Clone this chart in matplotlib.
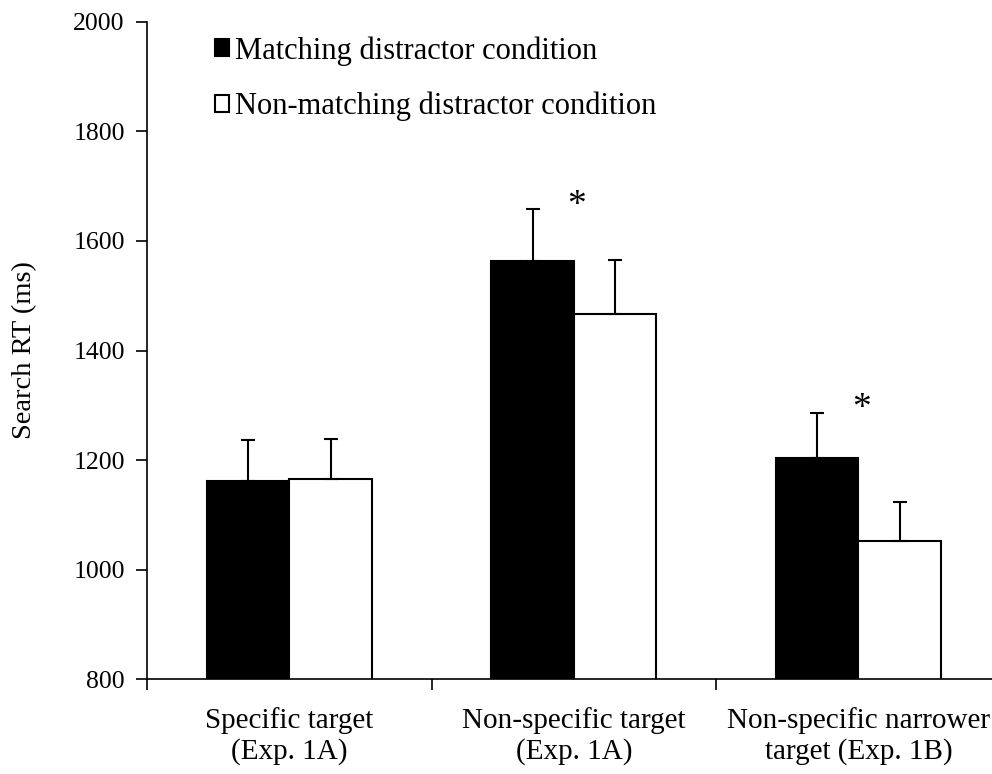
import matplotlib.pyplot as plt
import numpy as np

plt.rcParams['font.family'] = ['Liberation Serif', 'DejaVu Serif']

categories = ['Specific target\n(Exp. 1A)', 'Non-specific target\n(Exp. 1A)', 'Non-specific narrower\ntarget (Exp. 1B)']
matching = [1161, 1563, 1203]
matching_err = [75, 96, 83]
nonmatching = [1166, 1466, 1053]
nonmatching_err = [73, 100, 70]
star_groups = [1, 2]
star_level = [1665, 1293]

fig = plt.figure(figsize=(9.92, 7.74), dpi=100)
ax = fig.add_axes([0.1482, 0.1227, 0.8605, 0.8489])

x = np.arange(len(categories))
w = 0.29
lw = 1.5
ax.bar(x - w / 2, matching, w, color='black', edgecolor='black', lw=lw,
       label='Matching distractor condition')
ax.bar(x + w / 2, nonmatching, w, color='white', edgecolor='black', lw=lw,
       label='Non-matching distractor condition')
ax.errorbar(x - w / 2, matching, yerr=[np.zeros(3), matching_err], fmt='none',
            ecolor='black', elinewidth=lw, capsize=4.8, capthick=lw)
ax.errorbar(x + w / 2, nonmatching, yerr=[np.zeros(3), nonmatching_err], fmt='none',
            ecolor='black', elinewidth=lw, capsize=4.8, capthick=lw)
for g, lev in zip(star_groups, star_level):
    ax.text(g + 0.01, lev, '*', ha='center', va='center', fontsize=27)

ax.set_xlim(-0.5, 2.5)
ax.set_ylim(800, 2000)
ax.set_yticks(range(800, 2001, 200))
ax.set_xticks([-0.5, 0.5, 1.5, 2.5])
ax.set_xticklabels([])
ax.set_xticks(x, minor=True)
ax.set_xticklabels(categories, minor=True, fontsize=21, linespacing=1.2)
ax.tick_params(axis='x', which='minor', length=0, pad=20)
ax.tick_params(axis='x', which='major', length=8, width=1.2, direction='out')
ax.tick_params(axis='y', length=8, width=1.2, labelsize=18.5, pad=8)
ax.set_ylabel('Search RT (ms)', fontsize=20.5, labelpad=26)

ax.spines['top'].set_visible(False)
ax.spines['right'].set_visible(False)
ax.spines['left'].set_linewidth(1.2)
ax.spines['bottom'].set_linewidth(1.2)

ax.legend(loc='upper left', bbox_to_anchor=(0.047, 1.02), frameon=False, fontsize=22,
          handlelength=0.48, handleheight=0.48, handletextpad=0.2, labelspacing=0.85)

plt.savefig('out.png', dpi=100)
